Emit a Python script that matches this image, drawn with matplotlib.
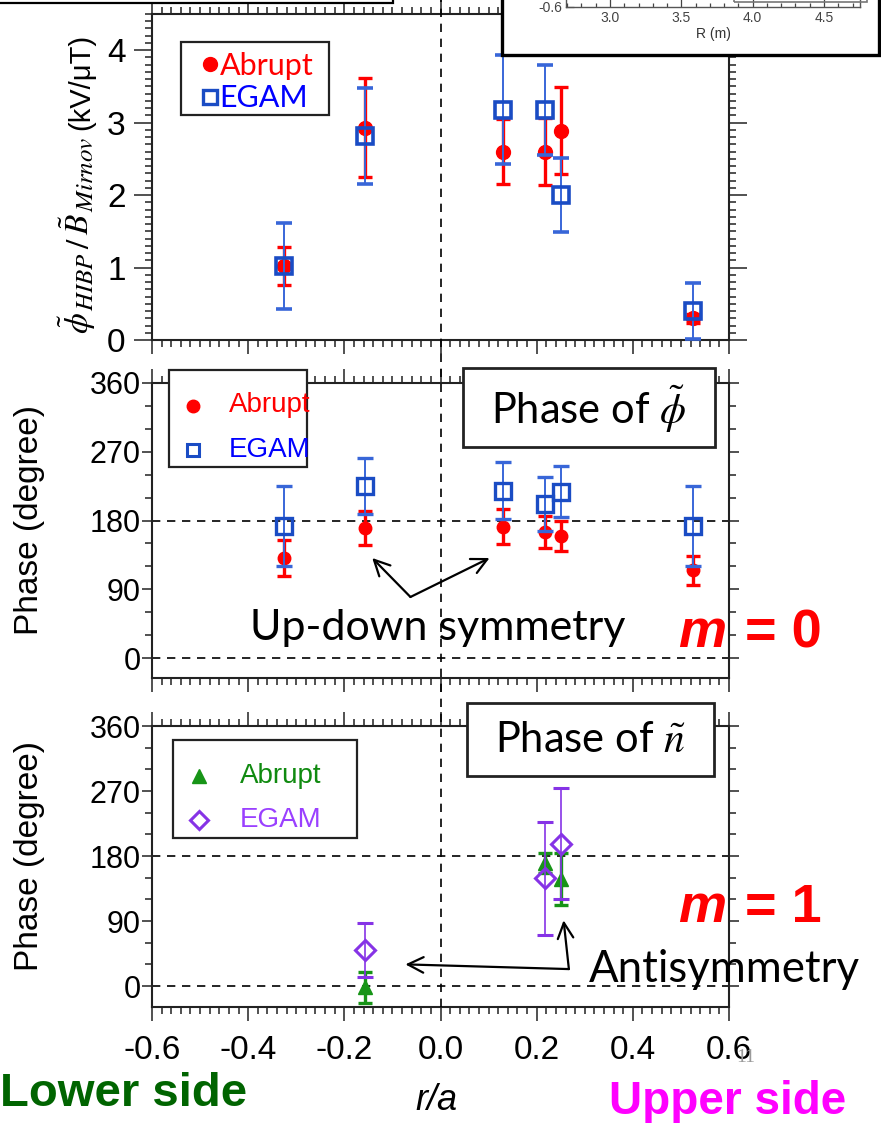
import matplotlib
matplotlib.use('Agg')
import matplotlib.pyplot as plt
from matplotlib.patches import Rectangle
from matplotlib.lines import Line2D
from matplotlib.ticker import MultipleLocator
import matplotlib.transforms as mtransforms

plt.rcParams['font.family'] = ['Liberation Sans', 'DejaVu Sans']
plt.rcParams['mathtext.fontset'] = 'stix'

# ---------------- data ----------------
r_pos = [-0.325, -0.156, 0.129, 0.217, 0.250, 0.525]

amp_abrupt = [1.02, 2.93, 2.60, 2.60, 2.89, 0.30]
amp_abrupt_err = [0.26, 0.68, 0.45, 0.46, 0.60, 0.06]
amp_egam = [1.02, 2.82, 3.18, 3.17, 2.00, 0.40]
amp_egam_err = [0.59, 0.66, 0.75, 0.62, 0.51, 0.38]

phase_abrupt = [131, 170, 172, 165, 160, 115]
phase_abrupt_err = [23, 22, 23, 21, 20, 19]
phase_egam = [173, 225, 219, 202, 218, 173]
phase_egam_err = [52, 37, 37, 35, 33, 52]

r_n = [-0.156, 0.217, 0.250]
nphase_abrupt = [-2, 170, 148]
nphase_abrupt_err = [22, 14, 36]
nphase_egam = [50, 149, 197]
nphase_egam_err = [37, 78, 77]

x_ticks = [-0.6, -0.4, -0.2, 0.0, 0.2, 0.4, 0.6]
phase_ticks = [0, 90, 180, 270, 360]
amp_ticks = [0, 1, 2, 3, 4]
inset_ticks = [3.0, 3.5, 4.0, 4.5]

RED = '#ff0000'
BLUE_MK = '#1a4cc4'
BLUE_EB = '#3866d8'
GREEN = '#179417'
PURPLE = '#8633e6'
DASH = (0, (5, 4))

W, H = 881, 1123
fig = plt.figure(figsize=(W / 100, H / 100), dpi=100)


def fx(p):
    return p / W


def fy(p):
    return 1 - p / H


def panel(top, bottom):
    return fig.add_axes([fx(152), fy(bottom), fx(729) - fx(152), (bottom - top) / H])


ax1 = panel(14, 340)
ax2 = panel(383, 678)
ax3 = panel(726, 1007)

for ax in (ax1, ax2, ax3):
    ax.set_xlim(-0.6, 0.6)
    ax.set_xticks(x_ticks)
    ax.xaxis.set_minor_locator(MultipleLocator(0.02))
    ax.tick_params(which='both', direction='out', top=True, right=True,
                   width=1.1, color='#222')
    ax.tick_params(which='major', length=10)
    ax.tick_params(which='minor', length=5)
    ax.tick_params(axis='x', labelbottom=False)
    for s in ax.spines.values():
        s.set_linewidth(1.5)
        s.set_color('#222')

# amplitude ratio panel
ax1.set_ylim(0, 4.5)
ax1.set_yticks(amp_ticks)
ax1.yaxis.set_minor_locator(MultipleLocator(0.1))
ax1.tick_params(axis='y', which='major', length=13)
ax1.tick_params(axis='y', labelsize=24, pad=6)

ax1.errorbar(r_pos, amp_abrupt, yerr=amp_abrupt_err, fmt='o', color=RED, ms=10,
             elinewidth=2.4, capsize=5, capthick=2.4, zorder=3)
ax1.errorbar(r_pos, amp_egam, yerr=amp_egam_err, fmt='s', mfc='none', mec=BLUE_MK,
             mew=2.6, ms=11, ecolor=BLUE_EB, elinewidth=1.4, capsize=6,
             capthick=1.4, zorder=4)

# phase panels
for ax, lo in ((ax2, -26), (ax3, -29)):
    ax.set_ylim(lo, 360)
    ax.set_yticks(phase_ticks)
    ax.yaxis.set_minor_locator(MultipleLocator(30))
    ax.tick_params(axis='y', which='major', length=7)
    ax.tick_params(axis='y', labelsize=22, pad=1)
    ax.axhline(180, color='k', lw=1.2, ls=DASH, zorder=1)
    ax.axhline(0, color='k', lw=1.2, ls=DASH, zorder=1)

ax2.errorbar(r_pos, phase_abrupt, yerr=phase_abrupt_err, fmt='o', color=RED, ms=9,
             elinewidth=2.4, capsize=5, capthick=2.4, zorder=3)
ax2.errorbar(r_pos, phase_egam, yerr=phase_egam_err, fmt='s', mfc='none',
             mec=BLUE_MK, mew=2.4, ms=11, ecolor=BLUE_EB, elinewidth=1.4,
             capsize=6, capthick=1.4, zorder=4)

ax3.errorbar(r_n, nphase_abrupt, yerr=nphase_abrupt_err, fmt='^', color=GREEN,
             ms=10, elinewidth=2.4, capsize=5, capthick=2.4, zorder=3)
ax3.errorbar(r_n, nphase_egam, yerr=nphase_egam_err, fmt='D', mfc='none',
             mec=PURPLE, mew=2.2, ms=10, ecolor=PURPLE, elinewidth=1.2,
             capsize=6, capthick=1.2, zorder=4)

ax3.tick_params(axis='x', labelbottom=True, labelsize=24, pad=10)
ax3.set_xticklabels([f'{v:.1f}' for v in x_ticks])

# vertical r/a = 0 line running through all panels
vline = Line2D([0, 0], [fy(1007), 1.0], color='k', lw=1.2, ls=DASH,
               transform=mtransforms.blended_transform_factory(ax3.transData,
                                                               fig.transFigure))
fig.add_artist(vline)

# y label of the amplitude panel, assembled piece by piece (read bottom to top)
renderer = fig.canvas.get_renderer()
ylabel_parts = [
    (r'$\tilde{\phi}$', 24, 0, 1),
    (r'$HIBP$', 18, 4, 3),
    (r'$/$', 24, 0, 2),
    (r'$\tilde{B}$', 24, 0, 1),
    (r'$Mirnov$', 18, 4, 7),
    ('(kV/μT)', 21, 0, 0),
]
ypos = 334
for s, size, shift, gap in ylabel_parts:
    t = fig.text(fx(89 + shift), fy(ypos), s, rotation=90, rotation_mode='anchor',
                 ha='left', va='baseline', fontsize=size)
    ypos -= t.get_window_extent(renderer).height + gap

fig.text(fx(30), fy(520), 'Phase (degree)', rotation=90, ha='center',
         va='center', fontsize=24)
fig.text(fx(30), fy(856), 'Phase (degree)', rotation=90, ha='center',
         va='center', fontsize=24)

# legend boxes
def box(x0, y0, x1, y1, lw=1.6, ec='#222', z=6):
    fig.add_artist(Rectangle((fx(x0), fy(y1)), fx(x1) - fx(x0), (y1 - y0) / H,
                             fc='white', ec=ec, lw=lw, zorder=z))


def mark(x, y, **kw):
    fig.add_artist(Line2D([fx(x)], [fy(y)], ls='none', zorder=7, **kw))


box(181, 42, 329, 115)
mark(210, 64, marker='o', color=RED, ms=10)
mark(210, 97, marker='s', mfc='none', mec=BLUE_MK, mew=2.4, ms=10)
fig.text(fx(220), fy(66), 'Abrupt', color=RED, fontsize=22, family=['Lato'],
         va='center', zorder=8)
fig.text(fx(219), fy(98), 'EGAM', color='#0000ff', fontsize=22, family=['Lato'],
         va='center', zorder=8)

box(169, 370, 307, 467)
mark(193, 406, marker='o', color=RED, ms=9)
mark(193, 450, marker='s', mfc='none', mec=BLUE_MK, mew=2.2, ms=9)
fig.text(fx(229), fy(405), 'Abrupt', color=RED, fontsize=20,
         va='center', zorder=8)
fig.text(fx(229), fy(450), 'EGAM', color='#0000ff', fontsize=20,
         va='center', zorder=8)

box(173, 740, 357, 838)
mark(199, 776, marker='^', color=GREEN, ms=10)
mark(199, 820, marker='D', mfc='none', mec=PURPLE, mew=2.2, ms=9)
fig.text(fx(240), fy(776), 'Abrupt', color='#108a10', fontsize=20,
         va='center', zorder=8)
fig.text(fx(240), fy(820), 'EGAM', color='#9a40ff', fontsize=20,
         va='center', zorder=8)

# title boxes
box(463, 368, 715, 447, lw=2)
fig.text(fx(589), fy(409), r'Phase of $\tilde{\phi}$', fontsize=30,
         family=['Lato'], ha='center', va='center', zorder=8)
box(467, 703, 714, 776, lw=2)
fig.text(fx(590), fy(740), r'Phase of $\tilde{n}$', fontsize=30,
         family=['Lato'], ha='center', va='center', zorder=8)

# annotations
arrow = dict(arrowstyle='->', lw=1.6, color='k', mutation_scale=28,
             shrinkA=0, shrinkB=0)
ax2.annotate('', xy=(-0.142, 131), xytext=(-0.0625, 80), arrowprops=arrow)
ax2.annotate('', xy=(0.102, 131), xytext=(-0.0625, 80), arrowprops=arrow)
fig.text(fx(438), fy(628), 'Up-down symmetry', fontsize=31, family=['Lato'],
         ha='center', va='center')

ax3.annotate('', xy=(-0.073, 30), xytext=(0.267, 23.5), arrowprops=arrow)
ax3.annotate('', xy=(0.256, 91), xytext=(0.267, 23.5), arrowprops=arrow)
fig.text(fx(589), fy(970), 'Antisymmetry', fontsize=31.5, family=['Lato'],
         ha='left', va='center')

for y, label in ((633, '0'), (908, '1')):
    fig.text(fx(678), fy(y), 'm', color=RED, fontsize=39, fontweight='bold',
             fontstyle='italic', va='center')
    fig.text(fx(745), fy(y), '= ' + label, color=RED, fontsize=39,
             fontweight='bold', va='center')

# bottom labels
fig.text(fx(0), fy(1094), 'Lower side', color='#006400', fontsize=34,
         fontweight='bold', va='center', ha='left')
fig.text(fx(846), fy(1102), 'Upper side', color='#ff00ff', fontsize=33,
         fontweight='bold', va='center', ha='right')
fig.text(fx(436), fy(1100), 'r/a', fontsize=26, fontstyle='italic',
         ha='center', va='center')
fig.text(fx(746), fy(1058), '11', color='#9a9a9a', fontsize=14,
         family=['Liberation Serif'], ha='center', va='center')

# geometry inset (only its lower part is visible)
fig.add_artist(Rectangle((fx(-5), fy(3)), fx(398), 0.05, fc='white', ec='k',
                         lw=1.6, zorder=3))
fig.add_artist(Rectangle((fx(502), fy(55)), fx(879) - fx(502), 0.1, fc='white',
                         ec='k', lw=2.4, zorder=3))
ins = fig.add_axes([fx(566), fy(7), fx(860) - fx(566), 60 / H], zorder=5)
ins.set_xlim(2.692, 4.752)
ins.set_ylim(-0.6, 0.6)
ins.set_xticks(inset_ticks)
ins.xaxis.set_minor_locator(MultipleLocator(0.1))
ins.set_yticks([-0.6])
ins.set_yticklabels(['-0.6'])
ins.tick_params(which='both', direction='in', labelsize=10, colors='#444',
                width=0.9, pad=3)
ins.tick_params(which='major', length=6)
ins.tick_params(which='minor', length=3)
ins.set_xlabel('R (m)', fontsize=10, color='#333', labelpad=1)
for s in ins.spines.values():
    s.set_color('#555')
    s.set_linewidth(1)
fig.add_artist(Rectangle((fx(734), fy(2)), fx(867) - fx(734), 0.05, fill=False,
                         ec='#777', lw=1.2, zorder=6))

fig.savefig('out.png', dpi=100)
